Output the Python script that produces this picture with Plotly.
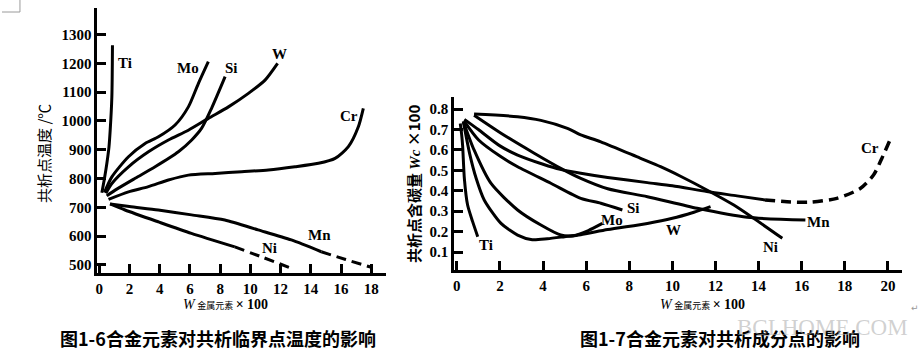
import plotly.graph_objects as go

W_PX, H_PX = 924, 359

# ---------------- Left chart: eutectoid temperature (°C) vs alloy wt% ----------------
left_ticks_x = [0, 2, 4, 6, 8, 10, 12, 14, 16, 18]
left_ticks_y = [500, 600, 700, 800, 900, 1000, 1100, 1200, 1300]

ti_x = [0.18, 0.35, 0.51, 0.65, 0.73, 0.84, 0.88]
ti_t = [751, 800, 853, 910, 968, 1084, 1263]

mo_x = [0.35, 0.84, 1.94, 3.04, 3.92, 5.02, 5.9, 6.56, 7.22]
mo_t = [752, 806, 876, 922, 945, 986, 1049, 1130, 1206]

si_x = [0.5, 1.06, 2.38, 3.7, 5.24, 6.12, 6.78, 7.44, 8.33]
si_t = [740, 760, 801, 841, 893, 934, 975, 1045, 1154]

w_x = [0.44, 0.84, 1.94, 3.26, 4.58, 5.9, 7.22, 8.55, 9.87, 10.97, 11.8]
w_t = [749, 783, 841, 893, 934, 968, 1009, 1049, 1096, 1142, 1200]

cr_x = [0.62, 1.94, 3.26, 4.58, 5.9, 7.67, 9.43, 11.19, 12.95, 14.5, 15.6, 16.48, 17.14, 17.47]
cr_t = [728, 754, 772, 795, 812, 818, 824, 830, 841, 853, 870, 911, 980, 1044]

mn_x = [0.72, 2.0, 3.91, 6.11, 8.31, 10.51, 12.71, 14.69]
mn_t = [712, 703, 691, 674, 656, 622, 587, 546]
mn_dash_x = [14.69, 16.3, 18.0]
mn_dash_t = [546, 519, 492]

ni_x = [0.72, 1.71, 3.9, 6.1, 8.97]
ni_t = [712, 691, 650, 610, 563]
ni_dash_x = [8.97, 10.8, 12.7]
ni_dash_t = [563, 527, 489]

left_labels = ["Ti", "Mo", "Si", "W", "Cr", "Mn", "Ni"]
left_label_x = [1.69, 5.85, 8.75, 11.92, 16.54, 14.56, 11.26]
left_label_y = [1200, 1184, 1184, 1233, 1017, 604, 559]

# ---------------- Right chart: eutectoid carbon content vs alloy wt% ----------------
right_ticks_x = [0, 2, 4, 6, 8, 10, 12, 14, 16, 18, 20]
right_ticks_y = [0.1, 0.2, 0.3, 0.4, 0.5, 0.6, 0.7, 0.8]

rti_x = [0.16, 0.22, 0.27, 0.35, 0.5, 0.73, 0.97]
rti_c = [0.73, 0.68, 0.62, 0.46, 0.33, 0.25, 0.175]

rmo_x = [0.3, 0.8, 1.58, 2.82, 3.9, 4.82, 5.4, 6.1, 6.75]
rmo_c = [0.74, 0.6, 0.437, 0.306, 0.232, 0.183, 0.18, 0.205, 0.24]

rw_x = [0.3, 0.6, 0.9, 1.27, 2.05, 2.82, 3.5, 4.2, 5.0, 5.75, 7.0, 8.84, 10.0, 11.0, 11.77]
rw_c = [0.74, 0.58, 0.46, 0.355, 0.24, 0.183, 0.16, 0.165, 0.175, 0.185, 0.21, 0.24, 0.265, 0.295, 0.322]

rsi_x = [0.35, 1.0, 2.0, 2.82, 4.36, 5.75, 6.68, 7.68]
rsi_c = [0.74, 0.65, 0.57, 0.518, 0.437, 0.363, 0.339, 0.306]

rcr_x = [0.35, 1.0, 2.0, 2.82, 4.0, 4.8, 5.75, 7.0, 8.84, 10.0, 11.6, 13.0, 14.3]
rcr_c = [0.75, 0.70, 0.62, 0.575, 0.53, 0.505, 0.486, 0.465, 0.44, 0.425, 0.396, 0.375, 0.355]
rcr_dash_x = [14.3, 15.5, 16.4, 17.63, 18.7, 19.33, 19.72, 20.1]
rcr_dash_c = [0.355, 0.345, 0.344, 0.363, 0.41, 0.477, 0.56, 0.65]

rmn_x = [0.8, 2.05, 3.59, 4.82, 5.75, 7.0, 8.84, 11.15, 13.47, 16.17]
rmn_c = [0.77, 0.682, 0.584, 0.51, 0.461, 0.41, 0.371, 0.314, 0.27, 0.257]

rni_x = [0.8, 2.82, 3.9, 5.13, 5.75, 6.68, 8.5, 9.45, 10.4, 11.6, 12.85, 13.77, 15.1]
rni_c = [0.776, 0.763, 0.745, 0.706, 0.674, 0.64, 0.56, 0.518, 0.47, 0.404, 0.33, 0.265, 0.167]

right_labels = ["Ti", "Mo", "Si", "W", "Cr", "Mn", "Ni"]
right_label_x = [1.35, 7.2, 8.2, 10.07, 19.17, 16.8, 14.55]
right_label_y = [0.134, 0.257, 0.314, 0.208, 0.608, 0.249, 0.126]

# ---------------- Figure ----------------
fig = go.Figure()


def add_line(x, y, xa, ya, dash="solid", width=3):
    fig.add_trace(go.Scatter(
        x=x, y=y, mode="lines", xaxis=xa, yaxis=ya,
        line=dict(color="black", width=width, shape="spline", smoothing=0.7, dash=dash),
        showlegend=False, hoverinfo="skip"))


for xs, ys in [(ti_x, ti_t), (mo_x, mo_t), (si_x, si_t), (w_x, w_t),
               (cr_x, cr_t), (mn_x, mn_t), (ni_x, ni_t)]:
    add_line(xs, ys, "x", "y")
add_line(mn_dash_x, mn_dash_t, "x", "y", dash="10px,6px")
add_line(ni_dash_x, ni_dash_t, "x", "y", dash="10px,6px")

for xs, ys in [(rti_x, rti_c), (rmo_x, rmo_c), (rw_x, rw_c), (rsi_x, rsi_c),
               (rcr_x, rcr_c), (rmn_x, rmn_c), (rni_x, rni_c)]:
    add_line(xs, ys, "x2", "y2")
add_line(rcr_dash_x, rcr_dash_c, "x2", "y2", dash="10px,6px", width=3.5)

tickfont = dict(family="Liberation Serif", size=15, color="black", weight="bold")
axis_common = dict(showline=True, linewidth=3, linecolor="black", ticks="inside",
                   ticklen=9, tickwidth=3, tickcolor="black", showgrid=False,
                   zeroline=False, tickfont=tickfont, fixedrange=True)

fig.update_layout(
    width=W_PX, height=H_PX, autosize=False,
    margin=dict(l=0, r=0, t=0, b=0),
    paper_bgcolor="white", plot_bgcolor="white",
    xaxis=dict(domain=[95.7 / W_PX, 385 / W_PX], range=[-0.11, 18.98],
               tickvals=left_ticks_x, anchor="y", **axis_common),
    yaxis=dict(domain=[(H_PX - 273) / H_PX, (H_PX - 8.3) / H_PX], range=[472.2, 1391.3],
               tickvals=left_ticks_y, anchor="x", **axis_common),
    xaxis2=dict(domain=[453.3 / W_PX, 901.7 / W_PX], range=[-0.116, 20.64],
                tickvals=right_ticks_x, anchor="y2", **axis_common),
    yaxis2=dict(domain=[(H_PX - 270) / H_PX, (H_PX - 96.7) / H_PX], range=[0.0118, 0.861],
                tickvals=right_ticks_y, ticktext=[f"{v:.1f}" for v in right_ticks_y],
                anchor="x2", **axis_common),
)

label_font = dict(family="Liberation Serif", size=15, color="black", weight="bold")
for t, x, y in zip(left_labels, left_label_x, left_label_y):
    fig.add_annotation(x=x, y=y, xref="x", yref="y", text=t, showarrow=False,
                       font=label_font, xanchor="center", yanchor="middle")
for t, x, y in zip(right_labels, right_label_x, right_label_y):
    fig.add_annotation(x=x, y=y, xref="x2", yref="y2", text=t, showarrow=False,
                       font=label_font, xanchor="center", yanchor="middle")


def px_ann(text, x, y, size, family, bold=False, angle=0, color="black", **kw):
    fig.add_annotation(x=x / W_PX, y=1 - y / H_PX, xref="paper", yref="paper",
                       text=text, showarrow=False, textangle=angle,
                       font=dict(family=family, size=size, color=color,
                                 weight="bold" if bold else "normal"),
                       xanchor="center", yanchor="middle", **kw)


# axis titles
px_ann("共析点温度 /℃", 41, 153, 15, "Noto Sans CJK SC", angle=-90)
px_ann("共析点含碳量 <i style='font-family:Liberation Serif'>Wc</i> ×100", 412, 184, 15,
       "Noto Sans CJK SC", bold=True, angle=-90)
xt = ("<i style='font-family:Liberation Serif;font-size:14px'>W</i> "
      "<span style='font-size:9px'>金属元素</span> "
      "<span style='font-family:Liberation Serif;font-size:14px'><b>× 100</b></span>")
px_ann(xt, 224, 304, 11, "Noto Sans CJK SC")
px_ann(xt, 702, 304, 11, "Noto Sans CJK SC")

# captions
px_ann("图1-6合金元素对共析临界点温度的影响", 216, 338, 18, "Noto Sans CJK SC", bold=True)
px_ann("图1-7合金元素对共析成分点的影响", 720, 338, 18, "Noto Sans CJK SC", bold=True)

# watermark and stray marks
px_ann("BCLHOME.COM", 822, 327, 23, "Liberation Serif", color="rgba(170,170,170,0.55)")
px_ann("↵", 915, 308, 9, "DejaVu Sans", color="#999999")

fig.add_shape(type="line", x0=0, x1=18 / W_PX, y0=1 - 12 / H_PX, y1=1 - 12 / H_PX,
              xref="paper", yref="paper", line=dict(color="#9a9a9a", width=1))
fig.add_shape(type="line", x0=18 / W_PX, x1=18 / W_PX, y0=1, y1=1 - 12 / H_PX,
              xref="paper", yref="paper", line=dict(color="#9a9a9a", width=1))

fig.write_html("out.html", config={"displayModeBar": False},
               post_script="document.body.style.margin='0';document.body.style.overflow='hidden';")
